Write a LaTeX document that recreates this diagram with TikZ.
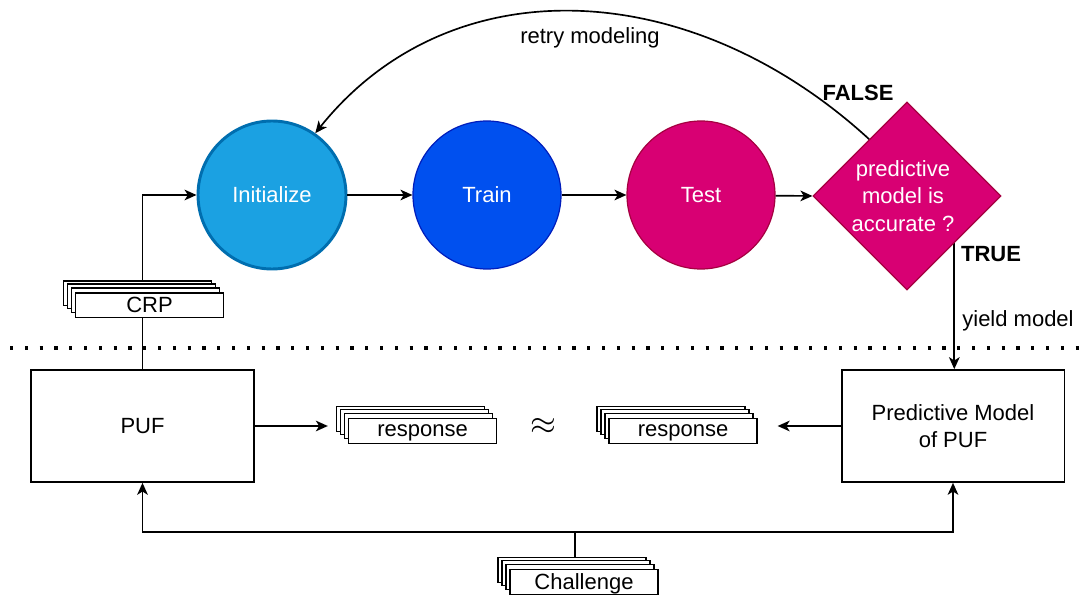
\documentclass[tikz,border=0pt]{standalone}
\usepackage{fontspec}
\setmainfont{Liberation Sans}
\usetikzlibrary{shapes.geometric,arrows.meta,calc}
\pgfdeclarelayer{background}
\pgfsetlayers{background,main}
\definecolor{initfill}{HTML}{1BA1E2}
\definecolor{initdraw}{HTML}{006EAF}
\definecolor{trainfill}{HTML}{0050EF}
\definecolor{traindraw}{HTML}{001DBC}
\definecolor{testfill}{HTML}{D80073}
\definecolor{testdraw}{HTML}{A50040}
\newcommand\docstack[4]{%
  \node[stk] (#1c) at (#2-12,#3-12) {};
  \node[stk] (#1b) at (#2-8,#3-9) {};
  \node[stk] (#1a) at (#2-4,#3-5) {};
  \node[stk] (#1) at (#2,#3) {#4};
}
\begin{document}
\begin{tikzpicture}[x=0.75pt,y=-0.75pt,
  font=\fontsize{16.5}{20}\selectfont,
  line width=1.25pt,
  conn/.style={line width=1.25pt},
  arr/.style={conn,-{Stealth[length=9pt,width=8pt,inset=2.5pt]}},
  circ/.style={circle,minimum size=111pt,inner sep=0pt,text=white},
  box/.style={draw,fill=white,minimum width=167pt,minimum height=84pt,inner sep=0pt,align=center},
  stk/.style={draw,fill=white,minimum width=111pt,minimum height=18.5pt,inner sep=0pt,line width=1pt,text depth=1pt},
  lbl/.style={inner sep=1pt}]
\useasboundingbox (0,0) rectangle (1086,595);

% top row
\node[circ,fill=initfill,draw=initdraw,line width=2.2pt] (init) at (272,195) {Initialize};
\node[circ,fill=trainfill,draw=traindraw,line width=0.9pt] (train) at (487,195) {Train};
\node[circ,fill=testfill,draw=testdraw,line width=0.9pt] (test) at (701,195) {Test};
\node[diamond,aspect=1,minimum size=141pt,inner sep=0pt,fill=testfill,draw=testdraw,line width=0.9pt] (dia) at (907,196) {};
\node[text=white,align=center,font=\fontsize{16.5}{20.5}\selectfont] (diat) at (903,196) {predictive\\model is\\accurate ?};

% bottom boxes
\node[box] (puf) at (142.5,426) {PUF};
\node[box] (pm) at (953,426) {Predictive Model\\of PUF};

% stacks
\docstack{crp}{149.5}{305.5}{CRP}
\docstack{ra}{422.5}{431}{response}
\docstack{rb}{683}{431}{response}
\docstack{ch}{584}{582}{Challenge}

\node[font=\fontsize{26}{26}\selectfont] (approx) at (543,426) {$\approx$};

% labels
\node[lbl,font=\fontsize{16.5}{20}\selectfont\bfseries] (false) at (858,93) {FALSE};
\node[lbl,font=\fontsize{16.5}{20}\selectfont\bfseries] (true) at (991,254) {TRUE};
\node[lbl] (yield) at (1018,321) {yield model};
\node[lbl] (retry) at (590,38) {retry modeling};

\coordinate (dl) at (10,348);
\coordinate (dr) at (1086,348);
\coordinate (fs) at ($(dia.west)!0.6!(dia.north)$);
\coordinate (j) at (575,532);

\draw[arr] (init) -- (train);
\draw[arr] (train) -- (test);
\draw[arr] (test) -- (dia.west);
\draw[arr] (pm.west) -- ([xshift=15pt]rb.east |- pm.west);
\draw[arr] (puf.east) -- ([xshift=-6pt]rac.west |- puf.east);
\begin{pgfonlayer}{background}
\draw[arr] (fs) .. controls (690,-25) and (450,-35) .. (init.55);
\draw[line width=2.4pt,dash pattern=on 2.4pt off 8.7pt] (dl) -- (dr);
\draw[arr] (dia.south east) -- (dia.south east |- pm.north);
\draw[arr] (puf.north) |- (init.west);
\draw[conn] (chc.north -| j) -- (j);
\draw[arr] (j) -| (puf.south);
\draw[arr] (j) -| (pm.south);
\end{pgfonlayer}
\end{tikzpicture}
\end{document}
